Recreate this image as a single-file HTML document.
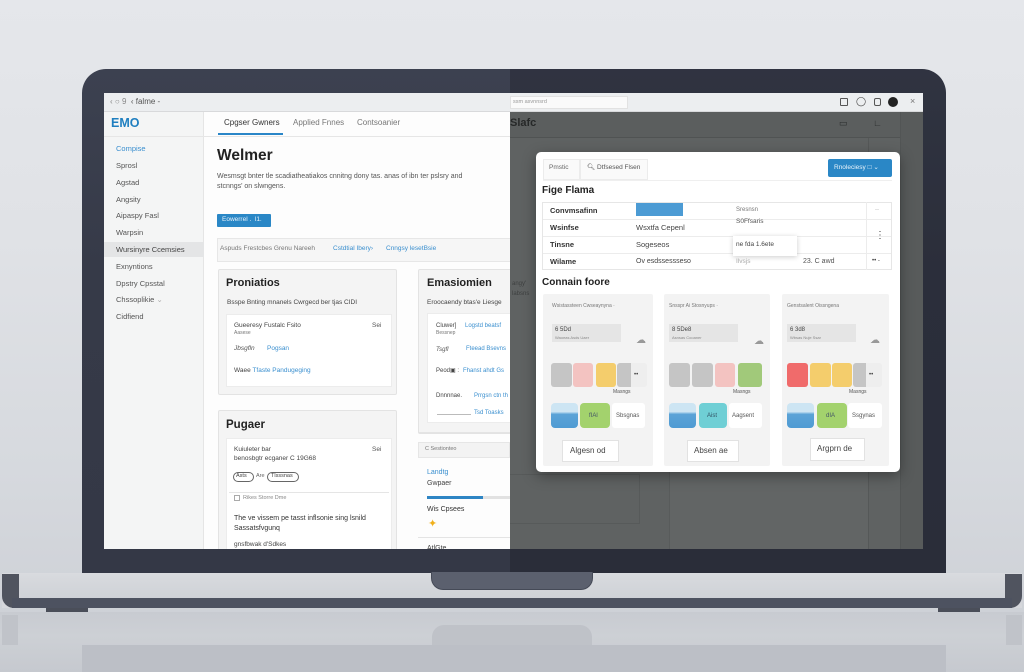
<!DOCTYPE html>
<html><head><meta charset="utf-8">
<style>
*{margin:0;padding:0;box-sizing:border-box}
body{width:1024px;height:672px;overflow:hidden;position:relative;font-family:"Liberation Sans",Arial,sans-serif;background:linear-gradient(180deg,#e5e7eb 0%,#e0e2e6 35%,#d6d9de 70%,#cbced4 100%)}
div,span{position:absolute}
.t{white-space:nowrap;line-height:1}
.g{color:#666}
.b{color:#2a86c8}
.d{color:#333}
</style></head><body>

<!-- reflection area -->
<div style="left:0;top:612px;width:1024px;height:60px;background:linear-gradient(180deg,#c8cbd1,#cdd0d5 40%,#c6c9cf)"></div>
<div style="left:82px;top:645px;width:864px;height:27px;background:#bcbfc6"></div>
<div style="left:2px;top:615px;width:16px;height:30px;background:#c0c3c9"></div>
<div style="left:1006px;top:615px;width:16px;height:30px;background:#c0c3c9"></div>
<div style="left:432px;top:625px;width:160px;height:20px;background:#bfc2c8;border-radius:12px 12px 0 0"></div>

<!-- base -->
<div style="left:2px;top:573px;width:1020px;height:35px;background:linear-gradient(180deg,#d9dbdf,#d1d3d8 70%,#d6d8dc);"></div>
<div style="left:2px;top:574px;width:17px;height:34px;background:#50545f;border-radius:0 0 0 12px"></div>
<div style="left:1005px;top:574px;width:17px;height:34px;background:#50545f;border-radius:0 0 12px 0"></div>
<div style="left:12px;top:598px;width:1000px;height:10px;background:#4d5260"></div>
<div style="left:19px;top:574px;width:986px;height:24px;background:linear-gradient(180deg,#d8dade,#cfd2d7);border-radius:0 0 0 8px"></div>
<div style="left:46px;top:608px;width:42px;height:4px;background:#4a4e59"></div>
<div style="left:938px;top:608px;width:42px;height:4px;background:#4a4e59"></div>

<!-- bezel -->
<div style="left:82px;top:69px;width:864px;height:504px;background:linear-gradient(180deg,#3c4150,#363a48 40%,#343846);border-radius:24px 24px 0 0"></div>
<div style="left:510px;top:69px;width:436px;height:504px;background:rgba(10,12,20,0.25);border-radius:0 24px 0 0"></div>
<!-- notch -->
<div style="left:431px;top:572px;width:162px;height:18px;background:#5b606e;border:1px solid #454a57;border-top:none;border-radius:0 0 12px 12px"></div>

<!-- toolbar -->
<div style="left:104px;top:93px;width:819px;height:19px;background:#eceef0;border-bottom:1px solid #d8d9db"></div>
<div class="t g" style="left:110px;top:98px;font-size:8px;color:#888">&#8249; &#9675; 9 &nbsp;<span style="position:static;color:#555">&#8249;</span> <span style="position:static;color:#555">falme -</span></div>
<div style="left:510px;top:96px;width:118px;height:13px;background:#fafafa;border:1px solid #e2e2e2"></div>
<div class="t" style="left:513px;top:100px;font-size:5.5px;color:#999">ssm asvnnsrd</div>
<div style="left:840px;top:98px;width:8px;height:8px;border:1px solid #555;border-radius:1px"></div>
<div class="t" style="left:856px;top:97px;font-size:9px;color:#444">&#9711;</div>
<div style="left:874px;top:98px;width:7px;height:8px;border:1px solid #555;border-radius:2px"></div>
<div style="left:888px;top:97px;width:10px;height:10px;background:#222;border-radius:50%"></div>
<div class="t" style="left:910px;top:97px;font-size:9px;color:#777">&#215;</div>

<!-- left app area (clipped) -->
<div style="left:0;top:0;width:510px;height:549px;overflow:hidden">
<div style="left:104px;top:112px;width:406px;height:437px;background:#fdfdfd"></div>
<div style="left:104px;top:112px;width:100px;height:437px;background:#f4f5f5;border-right:1px solid #e5e5e5"></div>
<div style="left:104px;top:136px;width:406px;height:1px;background:#e6e6e6"></div>
<div class="t" style="left:111px;top:117px;font-size:12.5px;font-weight:bold;color:#1f7fc0">EMO</div>
<div style="left:104px;top:242px;width:100px;height:15px;background:#e4e5e6"></div>
<div class="t" style="left:116px;top:145px;font-size:7.5px;color:#3a8fcf">Compise</div>
<div class="t d" style="left:116px;top:162px;font-size:7.5px;color:#555">Sprosl</div>
<div class="t d" style="left:116px;top:179px;font-size:7.5px;color:#555">Agstad</div>
<div class="t d" style="left:116px;top:196px;font-size:7.5px;color:#555">Angsity</div>
<div class="t d" style="left:116px;top:212px;font-size:7.5px;color:#555">Aipaspy Fasl</div>
<div class="t d" style="left:116px;top:229px;font-size:7.5px;color:#555">Warpsin</div>
<div class="t d" style="left:116px;top:246px;font-size:7.5px;color:#444">Wursinyre Ccemsies</div>
<div class="t d" style="left:116px;top:263px;font-size:7.5px;color:#555">Exnyntions</div>
<div class="t d" style="left:116px;top:280px;font-size:7.5px;color:#555">Dpstry Cpsstal</div>
<div class="t d" style="left:116px;top:296px;font-size:7.5px;color:#555">Chssoplikie <span style="position:static;color:#aaa">&#8964;</span></div>
<div class="t d" style="left:116px;top:313px;font-size:7.5px;color:#555">Cidfiend</div>

<!-- tabs -->
<div class="t" style="left:224px;top:119px;font-size:8px;color:#333">Cpgser Gwners</div>
<div style="left:218px;top:133px;width:65px;height:2px;background:#2a86c8"></div>
<div class="t" style="left:293px;top:119px;font-size:8px;color:#777">Applied Fnnes</div>
<div class="t" style="left:357px;top:119px;font-size:8px;color:#777">Contsoanier</div>

<div class="t" style="left:217px;top:148px;font-size:15.5px;font-weight:bold;color:#222">Welmer</div>
<div class="t" style="left:217px;top:173px;font-size:7px;color:#555">Wesmsgt bnter tle scadiatheatiakos cnnitng dony tas. anas of ibn ter pslsry and</div>
<div class="t" style="left:217px;top:183px;font-size:7px;color:#555">stcnngs' on slwngens.</div>
<div style="left:217px;top:214px;width:54px;height:13px;background:#2a87c6;border-radius:1px"></div>
<div class="t" style="left:222px;top:217px;font-size:6.5px;color:#e8f3fb">Eowerrel .&nbsp; l1.</div>

<div style="left:217px;top:238px;width:293px;height:24px;background:#f6f6f6;border:1px solid #e7e7e7;border-right:none"></div>
<div class="t" style="left:220px;top:246px;font-size:6.5px;color:#777">Aspuds Frestcbes Grenu Nareeh</div>
<div class="t" style="left:333px;top:246px;font-size:6.5px;color:#3a8fcf">Cstdtial Ibery&#8250;</div>
<div class="t" style="left:386px;top:246px;font-size:6.5px;color:#3a8fcf">Cnngsy lesetBsie</div>

<!-- card 1 -->
<div style="left:218px;top:269px;width:179px;height:126px;background:#f4f4f4;border:1px solid #e3e3e3;border-radius:2px"></div>
<div class="t" style="left:226px;top:278px;font-size:11px;font-weight:bold;color:#222">Proniatios</div>
<div class="t" style="left:227px;top:300px;font-size:6.5px;color:#444">Bsspe Bnting mnanels Cwrgecd ber tjas CIDI</div>
<div style="left:226px;top:314px;width:166px;height:73px;background:#fff;border:1px solid #ececec"></div>
<div class="t" style="left:234px;top:323px;font-size:6.5px;color:#444">Gueeresy Fustalc Fsito</div>
<div class="t" style="left:234px;top:331px;font-size:5px;color:#777">Aasese</div>
<div class="t" style="left:372px;top:323px;font-size:6.5px;color:#555">Sei</div>
<div class="t" style="left:234px;top:346px;font-size:6.5px;color:#555;font-style:italic">Jbsgfln</div>
<div class="t" style="left:267px;top:346px;font-size:6.5px;color:#3a8fcf">Pogsan</div>
<div class="t" style="left:234px;top:368px;font-size:6.5px;color:#444">Waee <span style="position:static;color:#3a8fcf">Tfaste Pandugeging</span></div>

<!-- card 2 -->
<div style="left:218px;top:410px;width:179px;height:150px;background:#f4f4f4;border:1px solid #e3e3e3;border-radius:2px"></div>
<div class="t" style="left:226px;top:420px;font-size:11.5px;font-weight:bold;color:#222">Pugaer</div>
<div style="left:226px;top:438px;width:166px;height:120px;background:#fff;border:1px solid #ececec"></div>
<div class="t" style="left:234px;top:447px;font-size:6.5px;color:#444">Kuiuleter bar</div>
<div class="t" style="left:372px;top:447px;font-size:6.5px;color:#555">Sei</div>
<div class="t" style="left:234px;top:456px;font-size:6.5px;color:#444">benosbgtr ecganer C 19G68</div>
<div style="left:233px;top:472px;width:21px;height:10px;border:1px solid #666;border-radius:5px"></div>
<div class="t" style="left:236px;top:474px;font-size:5.5px;color:#444">Asts</div>
<div class="t" style="left:256px;top:474px;font-size:5.5px;color:#666">Are</div>
<div style="left:267px;top:472px;width:32px;height:10px;border:1px solid #666;border-radius:5px"></div>
<div class="t" style="left:271px;top:474px;font-size:5.5px;color:#444">Tlsssnas</div>
<div style="left:229px;top:492px;width:160px;height:1px;background:#e5e5e5"></div>
<div style="left:234px;top:495px;width:6px;height:6px;border:1px solid #aaa"></div>
<div class="t" style="left:243px;top:496px;font-size:5.5px;color:#888">Rikes Storre Dme</div>
<div class="t" style="left:234px;top:515px;font-size:7px;color:#333">The ve vissem pe tasst inflsonie sing lsnild</div>
<div class="t" style="left:234px;top:525px;font-size:7px;color:#333">Sassatsfvgunq</div>
<div class="t" style="left:234px;top:542px;font-size:6.5px;color:#444">gnsfbwak d'Sdkes</div>

<!-- card 3 -->
<div style="left:418px;top:269px;width:100px;height:165px;background:#f4f4f4;border:1px solid #e3e3e3;border-radius:2px"></div>
<div class="t" style="left:427px;top:278px;font-size:11px;font-weight:bold;color:#222">Emasiomien</div>
<div class="t" style="left:427px;top:300px;font-size:6.5px;color:#444">Eroocaendy btas'e Liesge</div>
<div style="left:427px;top:313px;width:90px;height:110px;background:#fff;border:1px solid #ececec"></div>
<div class="t" style="left:436px;top:323px;font-size:6px;color:#444">Cluwer]</div>
<div class="t" style="left:465px;top:323px;font-size:6px;color:#3a8fcf">Logstd beatsf</div>
<div class="t" style="left:436px;top:331px;font-size:5px;color:#777">Bessnep</div>
<div class="t" style="left:436px;top:347px;font-size:6px;color:#555;font-style:italic">Tsgfl</div>
<div class="t" style="left:466px;top:346px;font-size:6px;color:#3a8fcf">Fteead Bsevns</div>
<div class="t" style="left:436px;top:368px;font-size:6px;color:#444">Peod&#9635; :</div>
<div class="t" style="left:463px;top:368px;font-size:6px;color:#3a8fcf">Fhanst ahdt Gs</div>
<div class="t" style="left:436px;top:393px;font-size:6px;color:#444">Dnnnnae.</div>
<div class="t" style="left:474px;top:393px;font-size:6px;color:#3a8fcf">Prrgsn ctn th</div>
<div style="left:437px;top:414px;width:34px;height:1px;background:#bbb"></div>
<div class="t" style="left:474px;top:410px;font-size:6px;color:#3a8fcf">Tsd Toasks</div>
<div style="left:418px;top:432px;width:92px;height:1px;background:#e4e4e4"></div>
<div style="left:418px;top:442px;width:92px;height:16px;background:#f3f3f3;border:1px solid #e6e6e6"></div>
<div class="t" style="left:425px;top:447px;font-size:5.5px;color:#777">C Sestionteo</div>
<div class="t" style="left:427px;top:469px;font-size:7px;color:#3a8fcf">Landtg</div>
<div class="t" style="left:427px;top:480px;font-size:7px;color:#444">Gwpaer</div>
<div style="left:427px;top:496px;width:83px;height:3px;background:#e2e2e2"></div>
<div style="left:427px;top:496px;width:56px;height:3px;background:#2e85c4"></div>
<div class="t" style="left:427px;top:506px;font-size:7px;color:#333">Wis Cpsees</div>
<div class="t" style="left:428px;top:519px;font-size:11px;color:#f0b01c">&#10022;</div>
<div style="left:418px;top:537px;width:92px;height:1px;background:#e4e4e4"></div>
<div class="t" style="left:427px;top:545px;font-size:7px;color:#444">AtlGte</div>
</div>

<!-- right dark area -->
<div style="left:510px;top:112px;width:413px;height:437px;background:#5f6262"></div>
<div style="left:510px;top:112px;width:413px;height:26px;background:#5b5e5e;border-bottom:1px solid #505353"></div>
<div class="t" style="left:510px;top:118px;font-size:11px;font-weight:bold;color:#262828">Slafc</div>
<div class="t" style="left:839px;top:119px;font-size:9px;color:#2a2c2c">&#9645;</div>
<div class="t" style="left:873px;top:119px;font-size:9px;color:#2a2c2c">&#8735;</div>
<div style="left:908px;top:121px;width:8px;height:4px;border:1px solid #333;border-radius:1px"></div>
<div style="left:900px;top:112px;width:23px;height:437px;background:#585b5b;border-left:1px solid #525555"></div>
<div style="left:868px;top:138px;width:1px;height:411px;background:#555858"></div>
<div style="left:669px;top:470px;width:199px;height:79px;background:#626565;border-left:1px solid #585b5b"></div>
<div style="left:510px;top:474px;width:130px;height:50px;border:1px solid #575a5a;border-left:none"></div>
<div class="t" style="left:512px;top:281px;font-size:6px;color:#3e4040">angy'</div>
<div class="t" style="left:512px;top:291px;font-size:6px;color:#3e4040">labsns</div>

<!-- modal -->
<div style="left:536px;top:152px;width:364px;height:320px;background:#fff;border-radius:5px;box-shadow:0 4px 14px rgba(0,0,0,0.35)"></div>
<div style="left:543px;top:159px;width:37px;height:21px;border:1px solid #ececec;background:#fafafa"></div>
<div class="t" style="left:549px;top:165px;font-size:6.5px;color:#666">Pmstic</div>
<div style="left:580px;top:159px;width:68px;height:21px;border:1px solid #ececec;background:#fafafa"></div>
<div class="t" style="left:587px;top:165px;font-size:6.5px;color:#555">&#x1F50D;&#xFE0E; Dtfsesed Flsen</div>
<div style="left:543px;top:180px;width:349px;height:1px;background:#efefef"></div>
<div style="left:828px;top:159px;width:64px;height:18px;background:#2a87c6;border-radius:2px"></div>
<div class="t" style="left:834px;top:165px;font-size:6.5px;color:#eaf4fb">Rnoleciesy &#9633; &#8964;</div>
<div class="t" style="left:542px;top:186px;font-size:10px;font-weight:bold;color:#222">Fige Flama</div>

<div style="left:542px;top:202px;width:350px;height:68px;border:1px solid #e6e6e6"></div>
<div style="left:543px;top:219px;width:348px;height:1px;background:#ececec"></div>
<div style="left:543px;top:236px;width:348px;height:1px;background:#ececec"></div>
<div style="left:543px;top:253px;width:348px;height:1px;background:#ececec"></div>
<div style="left:866px;top:202px;width:1px;height:68px;background:#ececec"></div>
<div class="t" style="left:550px;top:207px;font-size:7.5px;font-weight:bold;color:#333">Convmsafinn</div>
<div class="t" style="left:550px;top:224px;font-size:7.5px;font-weight:bold;color:#333">Wsinfse</div>
<div class="t" style="left:550px;top:241px;font-size:7.5px;font-weight:bold;color:#333">Tinsne</div>
<div class="t" style="left:550px;top:258px;font-size:7.5px;font-weight:bold;color:#333">Wilame</div>
<div style="left:636px;top:203px;width:47px;height:13px;background:#4c9bd4"></div>
<div class="t" style="left:636px;top:224px;font-size:7.5px;color:#444">Wsxtfa Cepenl</div>
<div class="t" style="left:636px;top:241px;font-size:7.5px;color:#444">Sogeseos</div>
<div class="t" style="left:636px;top:258px;font-size:7px;color:#444">Ov esdssessseso</div>
<div class="t" style="left:736px;top:207px;font-size:6px;color:#777">Sresnsn</div>
<div class="t" style="left:736px;top:219px;font-size:6.5px;color:#555">S0Ffsaris</div>
<div style="left:733px;top:236px;width:64px;height:20px;background:#fff;box-shadow:0 1px 5px rgba(0,0,0,0.2)"></div>
<div class="t" style="left:736px;top:242px;font-size:6.5px;color:#444">ne fda 1.6ete</div>
<div class="t" style="left:736px;top:259px;font-size:6.5px;color:#aaa">Ilvsjs</div>
<div class="t" style="left:803px;top:258px;font-size:7px;color:#555">23. C awd</div>
<div class="t" style="left:875px;top:207px;font-size:6px;color:#bbb">--</div>
<div class="t" style="left:875px;top:231px;font-size:10px;color:#444">&#8942;</div>
<div class="t" style="left:872px;top:258px;font-size:6px;color:#444">&#8226;&#8226; -</div>

<div class="t" style="left:542px;top:278px;font-size:10px;font-weight:bold;color:#222">Connain foore</div>

<!-- modal cards -->
<div style="left:543px;top:294px;width:110px;height:172px;background:#f3f3f3;border-radius:2px"></div>
<div style="left:664px;top:294px;width:106px;height:172px;background:#f3f3f3;border-radius:2px"></div>
<div style="left:782px;top:294px;width:107px;height:172px;background:#f3f3f3;border-radius:2px"></div>

<div class="t" style="left:552px;top:304px;font-size:5px;color:#777">Wsistassteen Cwseaynyna &#183;</div>
<div class="t" style="left:669px;top:304px;font-size:5px;color:#777">Snsspr Ai Stosnyups &#183;</div>
<div class="t" style="left:787px;top:304px;font-size:5px;color:#777">Genstsalent Oissngena</div>

<div style="left:552px;top:324px;width:69px;height:18px;background:#e5e5e5"></div>
<div class="t" style="left:555px;top:327px;font-size:6px;color:#444">6 5Dd</div>
<div class="t" style="left:555px;top:336px;font-size:4px;color:#888">Waoeas Asds Uaer</div>
<div style="left:669px;top:324px;width:69px;height:18px;background:#e5e5e5"></div>
<div class="t" style="left:672px;top:327px;font-size:6px;color:#444">8 5De8</div>
<div class="t" style="left:672px;top:336px;font-size:4px;color:#888">Asnsas Cooaner</div>
<div style="left:787px;top:324px;width:69px;height:18px;background:#e5e5e5"></div>
<div class="t" style="left:790px;top:327px;font-size:6px;color:#444">6 3d8</div>
<div class="t" style="left:790px;top:336px;font-size:4px;color:#888">Wbsas Nuje Ssar</div>

<div class="t" style="left:636px;top:336px;font-size:10px;color:#999">&#9729;</div>
<div class="t" style="left:754px;top:337px;font-size:10px;color:#999">&#9729;</div>
<div class="t" style="left:870px;top:336px;font-size:10px;color:#999">&#9729;</div>

<!-- squares card1 -->
<div style="left:551px;top:363px;width:21px;height:24px;background:#c5c5c5;border-radius:3px"></div>
<div style="left:573px;top:363px;width:20px;height:24px;background:#f3c3c1;border-radius:3px"></div>
<div style="left:596px;top:363px;width:20px;height:24px;background:#f4cd6c;border-radius:3px"></div>
<div style="left:617px;top:363px;width:14px;height:24px;background:#c5c5c5;border-radius:3px 0 0 3px"></div>
<div style="left:631px;top:363px;width:16px;height:24px;background:#eeeeee;border-radius:0 3px 3px 0"></div>
<div class="t" style="left:634px;top:372px;font-size:6px;color:#444">&#8226;&#8226;</div>
<div class="t" style="left:613px;top:390px;font-size:5px;color:#555">Masngs</div>
<div style="left:551px;top:403px;width:27px;height:25px;border-radius:4px;background:linear-gradient(180deg,#cde5f3 0%,#cde5f3 35%,#5ba3d7 45%,#4f9bd3 100%)"></div>
<div style="left:580px;top:403px;width:30px;height:25px;background:#a3d26d;border-radius:4px"></div>
<div class="t" style="left:589px;top:413px;font-size:6px;color:#456">fIAl</div>
<div style="left:612px;top:403px;width:33px;height:25px;background:#fff;border-radius:3px"></div>
<div class="t" style="left:616px;top:413px;font-size:6px;color:#555">Sbsgnas</div>
<div style="left:562px;top:440px;width:57px;height:22px;background:#fff;border:1px solid #e2e2e2"></div>
<div class="t" style="left:570px;top:447px;font-size:8px;color:#444">Algesn od</div>

<!-- squares card2 -->
<div style="left:669px;top:363px;width:21px;height:24px;background:#c5c5c5;border-radius:3px"></div>
<div style="left:692px;top:363px;width:21px;height:24px;background:#c5c5c5;border-radius:3px"></div>
<div style="left:715px;top:363px;width:20px;height:24px;background:#f3c3c1;border-radius:3px"></div>
<div style="left:738px;top:363px;width:24px;height:24px;background:#a1c97a;border-radius:3px"></div>
<div class="t" style="left:733px;top:390px;font-size:5px;color:#555">Masngs</div>
<div style="left:669px;top:403px;width:27px;height:25px;border-radius:4px;background:linear-gradient(180deg,#cde5f3 0%,#cde5f3 35%,#5ba3d7 45%,#4f9bd3 100%)"></div>
<div style="left:699px;top:403px;width:28px;height:25px;background:#6fcfd5;border-radius:4px"></div>
<div class="t" style="left:707px;top:413px;font-size:6px;color:#356">Aist</div>
<div style="left:729px;top:403px;width:33px;height:25px;background:#fff;border-radius:3px"></div>
<div class="t" style="left:732px;top:413px;font-size:6px;color:#555">Aagsent</div>
<div style="left:687px;top:440px;width:52px;height:22px;background:#fff;border:1px solid #e2e2e2"></div>
<div class="t" style="left:694px;top:447px;font-size:8px;color:#444">Absen ae</div>

<!-- squares card3 -->
<div style="left:787px;top:363px;width:21px;height:24px;background:#f06b6b;border-radius:3px"></div>
<div style="left:810px;top:363px;width:21px;height:24px;background:#f4cd6c;border-radius:3px"></div>
<div style="left:832px;top:363px;width:20px;height:24px;background:#f4cd6c;border-radius:3px"></div>
<div style="left:853px;top:363px;width:13px;height:24px;background:#c5c5c5;border-radius:3px 0 0 3px"></div>
<div style="left:866px;top:363px;width:16px;height:24px;background:#eeeeee;border-radius:0 3px 3px 0"></div>
<div class="t" style="left:869px;top:372px;font-size:6px;color:#444">&#8226;&#8226;</div>
<div class="t" style="left:849px;top:390px;font-size:5px;color:#555">Masngs</div>
<div style="left:787px;top:403px;width:27px;height:25px;border-radius:4px;background:linear-gradient(180deg,#cde5f3 0%,#cde5f3 35%,#5ba3d7 45%,#4f9bd3 100%)"></div>
<div style="left:817px;top:403px;width:30px;height:25px;background:#a3d26d;border-radius:4px"></div>
<div class="t" style="left:826px;top:413px;font-size:6px;color:#456">dIA</div>
<div style="left:848px;top:403px;width:34px;height:25px;background:#fff;border-radius:3px"></div>
<div class="t" style="left:852px;top:413px;font-size:6px;color:#555">Ssgynas</div>
<div style="left:810px;top:438px;width:55px;height:23px;background:#fff;border:1px solid #e2e2e2"></div>
<div class="t" style="left:817px;top:445px;font-size:8px;color:#444">Argprn de</div>

</body></html>
